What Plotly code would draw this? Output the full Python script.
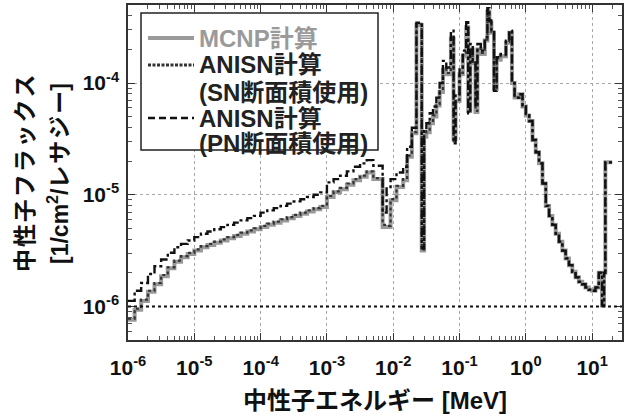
import plotly.graph_objects as go

# ---- data -------------------------------------------------------------
# energy group boundaries [MeV]
energy_edges = [
    1.00e-6, 1.26e-6, 1.58e-6, 2.00e-6, 2.51e-6, 3.16e-6, 3.98e-6, 5.01e-6, 6.31e-6, 7.94e-6,
    1.00e-5, 1.26e-5, 1.58e-5, 2.00e-5, 2.51e-5, 3.16e-5, 3.98e-5, 5.01e-5, 6.31e-5, 7.94e-5,
    1.00e-4, 1.26e-4, 1.58e-4, 2.00e-4, 2.51e-4, 3.16e-4, 3.98e-4, 5.01e-4, 6.31e-4, 7.94e-4,
    1.00e-3, 1.26e-3, 1.58e-3, 2.00e-3, 2.51e-3, 3.16e-3, 3.98e-3, 5.01e-3,
    6.92e-3, 7.94e-3, 9.12e-3, 1.12e-2, 1.41e-2, 1.62e-2, 1.91e-2, 2.24e-2, 2.69e-2, 2.92e-2,
    3.16e-2, 3.55e-2, 3.98e-2, 4.47e-2, 5.01e-2, 5.62e-2, 6.31e-2, 7.41e-2, 8.13e-2, 8.71e-2,
    0.100, 0.112, 0.126, 0.135, 0.145, 0.158, 0.174, 0.186, 0.209, 0.240, 0.263, 0.282,
    0.302, 0.331, 0.363, 0.417, 0.501, 0.562, 0.617, 0.676, 0.794, 0.891,
    1.00, 1.12, 1.26, 1.41, 1.58, 1.78, 2.00, 2.24, 2.51, 2.82, 3.16, 3.55, 3.98, 4.47,
    5.01, 5.62, 6.31, 7.08, 7.94, 8.91, 10.0, 11.2, 12.6, 14.1, 15.1, 15.8, 20.0,
]

# group fluxes [1/cm2/lethargy]
flux_mcnp = [
    7.59e-7, 9.33e-7, 1.12e-6, 1.35e-6, 1.58e-6, 1.86e-6, 2.19e-6, 2.51e-6, 2.75e-6, 2.95e-6,
    3.16e-6, 3.39e-6, 3.55e-6, 3.72e-6, 3.89e-6, 4.07e-6, 4.27e-6, 4.47e-6, 4.68e-6, 4.90e-6,
    5.13e-6, 5.37e-6, 5.62e-6, 5.89e-6, 6.17e-6, 6.46e-6, 6.76e-6, 7.08e-6, 7.41e-6, 7.76e-6,
    9.55e-6, 1.05e-5, 1.12e-5, 1.23e-5, 1.35e-5, 1.45e-5, 1.58e-5,
    1.38e-5, 5.13e-6, 5.13e-6, 8.91e-6, 1.17e-5, 1.35e-5, 2.19e-5, 3.55e-5, 3.31e-4, 3.16e-6,
    3.31e-5, 3.63e-5, 4.37e-5, 5.01e-5, 6.31e-5, 8.32e-5, 1.32e-4, 1.20e-4, 2.51e-4, 3.16e-5,
    6.92e-5, 1.20e-4, 1.74e-4, 3.16e-4, 5.62e-5, 2.00e-4, 1.51e-4, 5.50e-5, 2.00e-4, 1.82e-4,
    2.40e-4, 4.37e-4, 3.47e-4, 2.82e-4, 8.91e-5, 1.62e-4, 1.74e-4, 2.29e-4, 2.82e-4,
    1.00e-4, 7.41e-5, 7.94e-5, 6.17e-5,
    5.13e-5, 4.57e-5, 3.09e-5, 2.40e-5, 1.91e-5, 1.26e-5, 7.94e-6, 6.46e-6, 5.37e-6, 4.47e-6,
    3.80e-6, 3.16e-6, 2.69e-6, 2.34e-6, 2.04e-6, 1.82e-6, 1.66e-6, 1.58e-6, 1.48e-6, 1.41e-6,
    1.38e-6, 1.48e-6, 2.00e-6, 1.02e-6, 2.00e-6, 1.95e-5,
]

flux_anisn_sn = [
    7.76e-7, 9.55e-7, 1.15e-6, 1.38e-6, 1.62e-6, 1.91e-6, 2.24e-6, 2.57e-6, 2.82e-6, 3.02e-6,
    3.24e-6, 3.47e-6, 3.63e-6, 3.80e-6, 3.98e-6, 4.17e-6, 4.37e-6, 4.57e-6, 4.79e-6, 5.01e-6,
    5.25e-6, 5.50e-6, 5.75e-6, 6.03e-6, 6.31e-6, 6.61e-6, 6.92e-6, 7.24e-6, 7.59e-6, 7.94e-6,
    9.77e-6, 1.07e-5, 1.15e-5, 1.26e-5, 1.38e-5, 1.48e-5, 1.62e-5,
    1.41e-5, 5.37e-6, 5.25e-6, 9.12e-6, 1.20e-5, 1.38e-5, 2.24e-5, 3.63e-5, 3.39e-4, 3.24e-6,
    3.39e-5, 3.72e-5, 4.47e-5, 5.13e-5, 6.46e-5, 8.51e-5, 1.35e-4, 1.23e-4, 2.57e-4, 3.02e-5,
    7.08e-5, 1.23e-4, 1.78e-4, 3.24e-4, 5.37e-5, 2.04e-4, 1.55e-4, 5.62e-5, 2.04e-4, 1.86e-4,
    2.45e-4, 4.47e-4, 3.55e-4, 2.88e-4, 8.71e-5, 1.66e-4, 1.78e-4, 2.34e-4, 2.88e-4,
    1.00e-4, 7.41e-5, 7.94e-5, 6.17e-5,
    5.13e-5, 4.57e-5, 3.09e-5, 2.40e-5, 1.91e-5, 1.26e-5, 7.94e-6, 6.46e-6, 5.37e-6, 4.47e-6,
    3.80e-6, 3.16e-6, 2.69e-6, 2.34e-6, 2.04e-6, 1.82e-6, 1.66e-6, 1.58e-6, 1.48e-6, 1.41e-6,
    1.38e-6, 1.48e-6, 2.00e-6, 1.02e-6, 2.00e-6, 1.95e-5,
]

flux_anisn_pn = [
    1.12e-6, 1.38e-6, 1.62e-6, 1.95e-6, 2.29e-6, 2.63e-6, 3.02e-6, 3.39e-6, 3.63e-6, 3.89e-6,
    4.17e-6, 4.47e-6, 4.68e-6, 4.90e-6, 5.13e-6, 5.37e-6, 5.62e-6, 5.89e-6, 6.17e-6, 6.46e-6,
    6.92e-6, 7.24e-6, 7.59e-6, 7.94e-6, 8.32e-6, 8.71e-6, 9.12e-6, 9.55e-6, 1.00e-5, 1.05e-5,
    1.29e-5, 1.38e-5, 1.48e-5, 1.62e-5, 1.78e-5, 1.91e-5, 2.04e-5,
    1.82e-5, 6.92e-6, 1.17e-5, 1.38e-5, 1.58e-5, 1.78e-5, 2.69e-5, 3.98e-5, 3.47e-4, 3.31e-6,
    3.80e-5, 4.37e-5, 5.37e-5, 6.17e-5, 7.41e-5, 1.00e-4, 1.58e-4, 1.38e-4, 2.95e-4, 2.88e-5,
    7.94e-5, 1.38e-4, 1.95e-4, 3.63e-4, 5.37e-5, 2.24e-4, 1.58e-4, 6.17e-5, 2.24e-4, 1.95e-4,
    2.57e-4, 4.68e-4, 3.63e-4, 2.95e-4, 8.51e-5, 1.70e-4, 1.82e-4, 2.40e-4, 2.95e-4,
    1.00e-4, 7.41e-5, 7.94e-5, 6.17e-5,
    5.13e-5, 4.57e-5, 3.09e-5, 2.40e-5, 1.91e-5, 1.26e-5, 7.94e-6, 6.46e-6, 5.37e-6, 4.47e-6,
    3.80e-6, 3.16e-6, 2.69e-6, 2.34e-6, 2.04e-6, 1.82e-6, 1.66e-6, 1.58e-6, 1.48e-6, 1.41e-6,
    1.38e-6, 1.48e-6, 2.00e-6, 1.02e-6, 2.00e-6, 1.95e-5,
]

reference_level = 1e-6

x_tick_vals = [1e-6, 1e-5, 1e-4, 1e-3, 1e-2, 1e-1, 1e0, 1e1]
x_tick_text = ["10<sup>-6</sup>", "10<sup>-5</sup>", "10<sup>-4</sup>", "10<sup>-3</sup>",
               "10<sup>-2</sup>", "10<sup>-1</sup>", "10<sup>0</sup>", "10<sup>1</sup>"]
y_tick_vals = [1e-6, 1e-5, 1e-4]
y_tick_text = ["10<sup>-6</sup>", "10<sup>-5</sup>", "10<sup>-4</sup>"]

# legend labels, one list of text lines per series
series_labels = [
    ["MCNP計算"],
    ["ANISN計算", "(SN断面積使用)"],
    ["ANISN計算", "(PN断面積使用)"],
]

x_title = "中性子エネルギー [MeV]"
y_title_lines = ["中\u200a性\u200a子\u200aフ\u200aラ\u200aッ\u200aク\u200aス",
                 "[1/cm<sup>2</sup>/レ\u200aサ\u200aジ\u200aー]"]

# ---- figure -----------------------------------------------------------
FONT = "Liberation Sans, Arial, Noto Sans CJK JP, sans-serif"
W, H = 627, 418
ML, MR, MT, MB = 128, 5, 5, 78
PW, PH = W - ML - MR, H - MT - MB


def px_x(p):
    return (p - ML) / PW


def px_y(p):
    return 1 - (p - MT) / PH


fig = go.Figure()
styles = [
    dict(color="#9a9a9a", width=4, dash="solid"),
    dict(color="#333333", width=2.2, dash="dot"),
    dict(color="#111111", width=2.4, dash="dashdot"),
]
text_colors = ["#9a9a9a", "#222222", "#222222"]
legend_dash = ["solid", "3px,1.5px", "7px,4px"]
legend_width = [4, 3, 2.6]

for labels, flux, st in zip(series_labels, [flux_mcnp, flux_anisn_sn, flux_anisn_pn], styles):
    fig.add_trace(go.Scatter(
        x=energy_edges, y=flux + flux[-1:], mode="lines", name=" ".join(labels),
        line=dict(shape="hv", **st), showlegend=False,
    ))

fig.add_hline(y=reference_level, line=dict(color="#111111", width=2, dash="dot"), layer="above")

# ---- legend box (drawn by hand for tight line spacing) ----
fig.add_shape(type="rect", xref="paper", yref="paper",
              x0=px_x(141), x1=px_x(378), y0=px_y(150), y1=px_y(13),
              line=dict(color="#222222", width=1.5), fillcolor="white", layer="above")
line_rows = [38, 65, 92, 118, 143]
row = 0
for labels, st, tc, ld, lw in zip(series_labels, styles, text_colors, legend_dash, legend_width):
    y0 = line_rows[row]
    fig.add_shape(type="line", xref="paper", yref="paper",
                  x0=px_x(148), x1=px_x(194), y0=px_y(y0), y1=px_y(y0),
                  line=dict(color=st["color"], width=lw, dash=ld), layer="above")
    for lab in labels:
        fig.add_annotation(text=lab, xref="paper", yref="paper",
                           x=px_x(197), y=px_y(line_rows[row]), xanchor="left", yanchor="middle",
                           showarrow=False,
                           font=dict(family=FONT, size=24, color=tc, weight="bold"))
        row += 1

# ---- axis titles ----
fig.add_annotation(text=x_title, xref="paper", yref="paper", x=0.5, y=px_y(400),
                   xanchor="center", yanchor="middle", showarrow=False,
                   font=dict(family=FONT, size=24, color="#111111", weight="bold"))
for txt, cx in zip(y_title_lines, [25, 58]):
    fig.add_annotation(text=txt, xref="paper", yref="paper", x=px_x(cx), y=px_y(174),
                       xanchor="center", yanchor="middle", textangle=-90, showarrow=False,
                       font=dict(family=FONT, size=23, color="#111111", weight="bold"))

axis_common = dict(
    type="log", showline=True, linecolor="#333333", linewidth=1.5, mirror="ticks",
    ticks="inside", ticklen=7, tickcolor="#333333",
    showgrid=True, gridcolor="#a8a8a8", griddash="dot", gridwidth=1,
    zeroline=False, automargin=False,
    tickfont=dict(family=FONT, size=21, color="#111111", weight="bold"),
    minor=dict(ticks="inside", ticklen=4, tickcolor="#555555", dtick="D1", showgrid=False),
)

fig.update_xaxes(range=[-6, 1.45], tickmode="array", tickvals=x_tick_vals,
                 ticktext=x_tick_text, ticklabelstandoff=8, **axis_common)
fig.update_yaxes(range=[-6.301, -3.301], tickmode="array", tickvals=y_tick_vals,
                 ticktext=y_tick_text, ticklabelstandoff=3, **axis_common)

fig.update_layout(
    width=W, height=H,
    margin=dict(l=ML, r=MR, t=MT, b=MB),
    paper_bgcolor="white", plot_bgcolor="white",
    font=dict(family=FONT, color="#111111"),
    showlegend=False,
)

fig.write_html("out.html", config={"displayModeBar": False},
               post_script="document.body.style.margin='0';document.body.style.padding='0';")
